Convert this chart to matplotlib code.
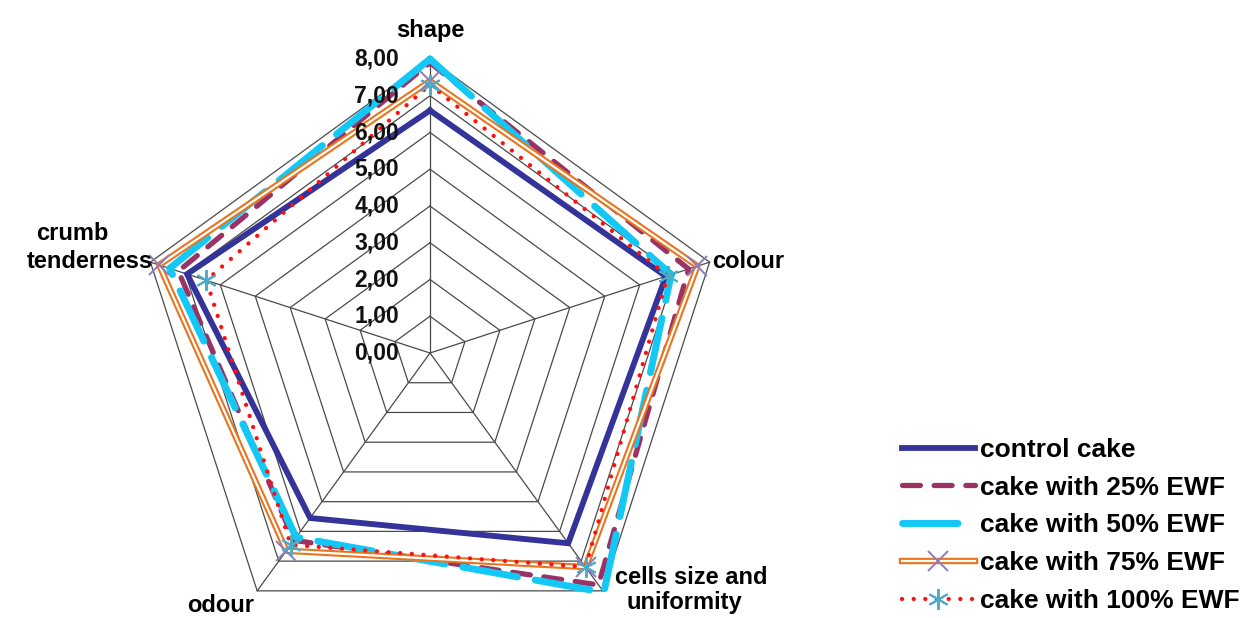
import numpy as np
import matplotlib
matplotlib.use("Agg")
import matplotlib.pyplot as plt
from matplotlib.lines import Line2D
from matplotlib.legend_handler import HandlerTuple
from matplotlib.transforms import offset_copy

plt.rcParams['font.family'] = ['Liberation Sans', 'DejaVu Sans']
plt.rcParams['font.weight'] = 'bold'

# Sensory attributes, clockwise from the top
categories = ["shape", "colour", "cells size and uniformity", "odour", "crumb tenderness"]

control_cake = [6.60, 6.75, 6.40, 5.55, 6.95]
ewf_25 = [7.90, 7.40, 7.80, 6.30, 7.20]
ewf_50 = [8.00, 6.90, 8.05, 6.20, 7.45]
ewf_75 = [7.40, 7.65, 7.20, 6.65, 7.75]
ewf_100 = [7.30, 6.80, 7.20, 6.45, 6.40]

series_names = ["control cake", "cake with 25% EWF", "cake with 50% EWF",
                "cake with 75% EWF", "cake with 100% EWF"]
tick_values = [0, 1, 2, 3, 4, 5, 6, 7, 8]

W, H = 1250, 618
fig = plt.figure(figsize=(W / 100, H / 100), dpi=100)

# polar axes centred at (430, 353) px
cx, cy, R = 430, 353, 294
ax = fig.add_axes([(cx - R) / W, 1 - (cy + R) / H, 2 * R / W, 2 * R / H],
                  projection='polar')
ax.set_theta_offset(np.pi / 2)
ax.set_theta_direction(-1)
ax.set_ylim(0, max(tick_values))
ax.axis('off')

n = len(categories)
theta = np.arange(n) * 2 * np.pi / n
theta_c = np.append(theta, theta[0])


def closed(vals):
    return np.append(vals, vals[0])


grid_col = '#4a4a4a'
for t in tick_values[1:]:
    ax.plot(theta_c, [t] * (n + 1), color=grid_col, lw=0.9, zorder=1, clip_on=False)
for a in theta:
    ax.plot([a, a], [0, tick_values[-1]], color=grid_col, lw=0.9, zorder=1, clip_on=False)

# radial value labels along the top spoke
off = offset_copy(ax.transData, fig=fig, x=-31, y=0, units='dots')
for t in tick_values:
    ax.text(0, t, f"{t:.2f}".replace('.', ','), transform=off, ha='right',
            va='center', fontsize=16.5, fontweight='bold', color='#111111',
            zorder=20)

navy = '#333399'
plum = '#993366'
cyan = '#14C8F5'
orange = '#E8741E'
red = '#FF1010'
lav = '#8E7CB8'
teal = '#4BACC6'

red_dash = dict(color=red, lw=3.1, dashes=(0.01, 2.7), dash_capstyle='round')
x_mark = dict(ls='none', marker='x', ms=15, mew=1.4, color=lav)
star_mark = dict(ls='none', marker=(6, 2, 0), ms=15, mew=1.4, color=teal)

l_ctrl, = ax.plot(theta_c, closed(control_cake), color=navy, lw=4.2,
                  solid_joinstyle='miter', zorder=3, clip_on=False)
l_25, = ax.plot(theta_c, closed(ewf_25), color=plum, lw=3.8,
                dashes=(3.4, 2.6), dash_capstyle='round', zorder=4, clip_on=False)
l_50, = ax.plot(theta_c, closed(ewf_50), color=cyan, lw=5.0,
                dashes=(8, 2.6), dash_capstyle='round', solid_capstyle='round',
                zorder=5, clip_on=False)
ax.plot(theta_c, closed(ewf_75), color=orange, lw=4.6, zorder=6, clip_on=False)
ax.plot(theta_c, closed(ewf_75), color='white', lw=1.6, zorder=6, clip_on=False)
ax.plot(theta, ewf_75, zorder=7, clip_on=False, **x_mark)
ax.plot(theta_c, closed(ewf_100), zorder=8, clip_on=False, **red_dash)
ax.plot(theta, ewf_100, zorder=9, clip_on=False, **star_mark)


def fx(x):
    return x / W


def fy(y):
    return 1 - y / H


cat_fs = 17
fig.text(fx(430), fy(30), "shape", ha='center', va='center', fontsize=cat_fs)
fig.text(fx(712), fy(262), "colour", ha='left', va='center', fontsize=cat_fs)
fig.text(fx(615), fy(577), "cells size and", ha='left', va='center', fontsize=cat_fs)
fig.text(fx(626), fy(603), "uniformity", ha='left', va='center', fontsize=cat_fs)
fig.text(fx(221), fy(606), "odour", ha='center', va='center', fontsize=cat_fs)
fig.text(fx(36), fy(233), "crumb", ha='left', va='center', fontsize=cat_fs)
fig.text(fx(27), fy(262), "tenderness", ha='left', va='center', fontsize=cat_fs)

# legend with a double orange line for the 75% series
h75 = (Line2D([], [], color=orange, lw=4.6),
       Line2D([], [], color='white', lw=1.6),
       Line2D([], [], **x_mark))
h100 = (Line2D([], [], **red_dash),
        Line2D([], [], **star_mark))
leg = fig.legend([l_ctrl, l_25, l_50, h75, h100], series_names,
                 handler_map={tuple: HandlerTuple(ndivide=1, pad=0)},
                 loc='upper left', bbox_to_anchor=(fx(902), fy(438)),
                 frameon=False, fontsize=19, handlelength=2.75,
                 handletextpad=0.2, labelspacing=0.52, borderpad=0,
                 borderaxespad=0, numpoints=1)
for txt in leg.get_texts():
    txt.set_fontweight('bold')

fig.savefig("out.png", dpi=100)
